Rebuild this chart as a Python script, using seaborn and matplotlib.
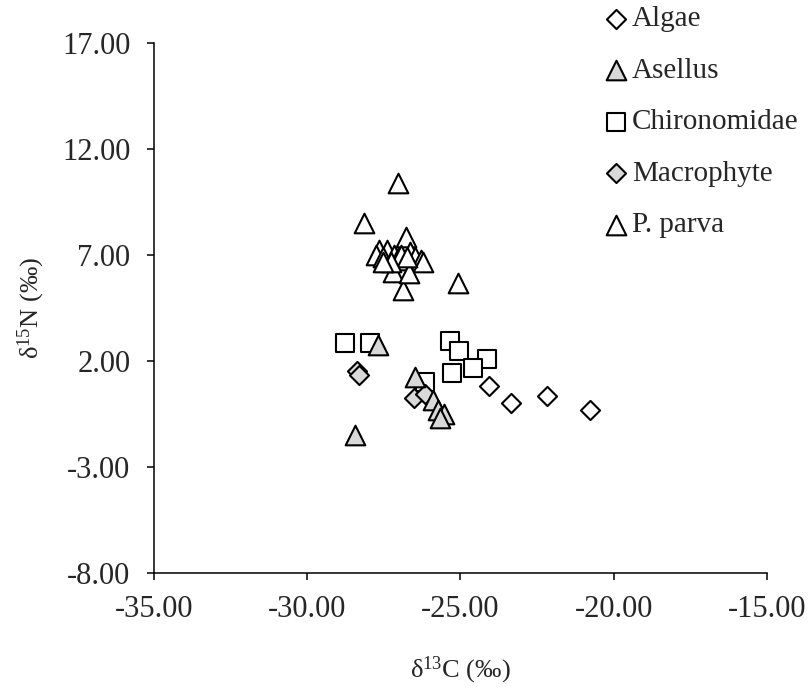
import matplotlib
matplotlib.use("Agg")
import matplotlib.pyplot as plt
import seaborn as sns
import pandas as pd
from matplotlib.ticker import FormatStrFormatter, FixedLocator

# ---------------- data ----------------
algae_x = [-24.06, -23.34, -22.17, -20.77]
algae_y = [0.82, 0.02, 0.35, -0.31]

asellus_x = [-27.70, -28.45, -26.47, -25.88, -25.72, -25.55, -25.68]
asellus_y = [2.75, -1.49, 1.25, 0.16, -0.31, -0.50, -0.69]

chiro_x = [-28.78, -27.96, -26.17, -25.33, -25.03, -24.12, -25.26, -24.58]
chiro_y = [2.85, 2.85, 1.01, 2.94, 2.47, 2.09, 1.43, 1.67]

macro_x = [-28.39, -28.32, -26.53, -26.17]
macro_y = [1.53, 1.34, 0.25, 0.44]

parva_x = [-27.05, -28.13, -26.79, -25.07, -26.86, -27.67, -27.38, -27.77,
           -27.54, -27.18, -27.05, -26.86, -26.63, -26.47, -26.30, -26.21,
           -27.21, -26.69, -26.95, -26.73, -27.28, -27.51]
parva_y = [10.40, 8.51, 7.85, 5.68, 5.35, 7.24, 7.24, 7.00,
           6.91, 7.00, 6.86, 6.76, 7.14, 6.91, 6.76, 6.67,
           6.20, 6.15, 7.00, 6.91, 6.67, 6.67]

x_ticks = [-35, -30, -25, -20, -15]
y_ticks = [-8, -3, 2, 7, 12, 17]

species = ["Algae", "Asellus", "Chironomidae", "Macrophyte", "P. parva"]
series = {
    "Algae": (algae_x, algae_y),
    "Asellus": (asellus_x, asellus_y),
    "Chironomidae": (chiro_x, chiro_y),
    "Macrophyte": (macro_x, macro_y),
    "P. parva": (parva_x, parva_y),
}

# ---------------- styling ----------------
sns.set_style("white")
plt.rcParams["font.family"] = ["Liberation Serif", "DejaVu Serif"]
plt.rcParams["mathtext.fontset"] = "custom"
plt.rcParams["mathtext.rm"] = "Liberation Serif"
plt.rcParams["mathtext.it"] = "Liberation Serif:italic"

grey = "#D9D9D9"
style = {
    "Algae": dict(marker="D", color="white", s=95),
    "Asellus": dict(marker="^", color=grey, s=200),
    "Chironomidae": dict(marker="s", color="white", s=175),
    "Macrophyte": dict(marker="D", color=grey, s=95),
    "P. parva": dict(marker="^", color="white", s=200),
}
draw_order = ["Chironomidae", "Algae", "Macrophyte", "Asellus", "P. parva"]

fig = plt.figure(figsize=(8.08, 6.97), dpi=100)
ax = fig.add_axes([0.1906, 0.178, 0.7584, 0.760])

handles = {}
for name in draw_order:
    xs, ys = series[name]
    df = pd.DataFrame({"x": xs, "y": ys})
    st = style[name]
    sns.scatterplot(data=df, x="x", y="y", ax=ax, marker=st["marker"],
                    color=st["color"], s=st["s"], edgecolor="black",
                    linewidth=1.5, label=name, legend=False, zorder=3)
    handles[name] = ax.collections[-1]

ax.set_xlim(-35, -15)
ax.set_ylim(-8, 17)
ax.xaxis.set_major_locator(FixedLocator(x_ticks))
ax.yaxis.set_major_locator(FixedLocator(y_ticks))
ax.xaxis.set_major_formatter(FormatStrFormatter("%.2f"))
ax.yaxis.set_major_formatter(FormatStrFormatter("%.2f"))

for sp in ["top", "right"]:
    ax.spines[sp].set_visible(False)
for sp in ["left", "bottom"]:
    ax.spines[sp].set_color("black")
    ax.spines[sp].set_linewidth(1.1)

ax.tick_params(axis="both", which="major", direction="out", length=5,
               width=1.1, color="black", labelsize=22,
               left=True, bottom=True)
ax.tick_params(axis="y", pad=12)
ax.tick_params(axis="x", pad=11)
ax.grid(False)

ax.set_xlabel(r"δ$^{\mathrm{13}}$C (‰)", fontsize=19, labelpad=22)
ax.set_ylabel(r"δ$^{\mathrm{15}}$N (‰)", fontsize=19, labelpad=11)

leg = fig.legend([handles[n] for n in species], species,
                 loc="upper left", bbox_to_anchor=(0.737, 1.0),
                 frameon=False, fontsize=21, labelspacing=0.86,
                 handletextpad=0.05, handlelength=1.0, markerscale=1.0,
                 borderaxespad=0.0, borderpad=0.2)

fig.savefig("out.png", dpi=100)
